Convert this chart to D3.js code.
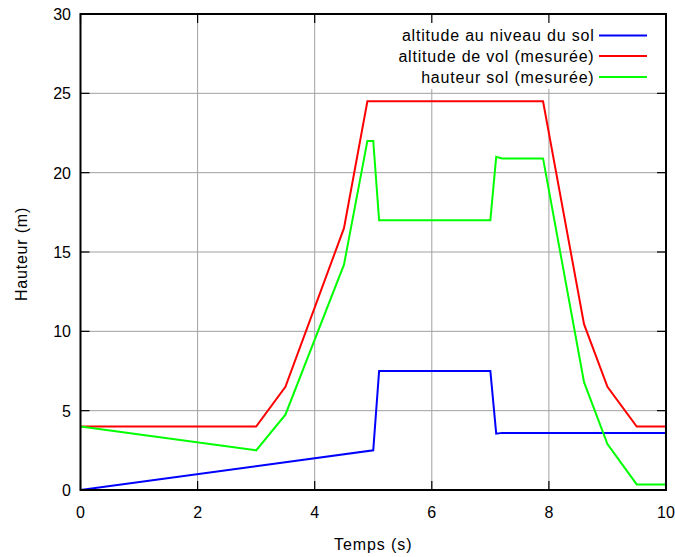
<!DOCTYPE html>
<html>
<head>
<meta charset="utf-8">
<script src="https://cdn.jsdelivr.net/npm/d3@7"></script>
<style>
  html, body { margin: 0; padding: 0; background: #fff; }
  svg { display: block; }
  text { font-family: "Liberation Sans", Arial, sans-serif; fill: #000; }
</style>
</head>
<body>
<svg id="chart" width="675" height="557"></svg>
<script>
// ---- data ----
const xTicks = [0, 2, 4, 6, 8, 10];
const yTicks = [0, 5, 10, 15, 20, 25, 30];
const seriesNames = ["altitude au niveau du sol", "altitude de vol (mesurée)", "hauteur sol (mesurée)"];
const seriesColors = ["#0000ff", "#ff0000", "#00ff00"];

const solX = [0, 5.0, 5.1, 7.0, 7.1, 7.2, 10];
const solY = [0, 2.5, 7.5, 7.5, 3.55, 3.6, 3.6];

const volX = [0, 3.0, 3.5, 4.5, 4.9, 7.9, 8.6, 9.0, 9.5, 10];
const volY = [4.0, 4.0, 6.5, 16.5, 24.5, 24.5, 10.45, 6.5, 4.0, 4.0];

const hautX = [0, 3.0, 3.5, 4.5, 4.9, 5.0, 5.1, 7.0, 7.1, 7.2, 7.9, 8.6, 9.0, 9.5, 10];
const hautY = [4.0, 2.5, 4.75, 14.2, 22.0, 22.0, 17.0, 17.0, 21.0, 20.9, 20.9, 6.8, 2.9, 0.35, 0.35];

// ---- layout ----
const svg = d3.select("#chart");
const L = 80.5, R = 666, T = 14, B = 490;
const x = d3.scaleLinear().domain([0, 10]).range([L, R]);
const y = d3.scaleLinear().domain([0, 30]).range([B, T]);

// grid
const grid = svg.append("g");
grid.selectAll("line.gx").data(xTicks.slice(1, -1)).enter().append("line")
  .attr("x1", d => x(d)).attr("x2", d => x(d)).attr("y1", B).attr("y2", T)
  .attr("stroke", "#a0a0a0").attr("stroke-width", 1);
grid.selectAll("line.gy").data(yTicks.slice(1, -1)).enter().append("line")
  .attr("x1", L).attr("x2", R).attr("y1", d => y(d)).attr("y2", d => y(d))
  .attr("stroke", "#a0a0a0").attr("stroke-width", 1);

// legend background (covers grid)
svg.append("rect").attr("x", 396).attr("y", T + 1).attr("width", R - 396 - 1).attr("height", 74)
  .attr("fill", "#fff");

// inward ticks on all sides
const tk = 9;
const ticks = svg.append("g").attr("stroke", "#000").attr("stroke-width", 1.2);
xTicks.forEach(d => {
  ticks.append("line").attr("x1", x(d)).attr("x2", x(d)).attr("y1", B).attr("y2", B - tk);
  ticks.append("line").attr("x1", x(d)).attr("x2", x(d)).attr("y1", T).attr("y2", T + tk);
});
yTicks.forEach(d => {
  ticks.append("line").attr("x1", L).attr("x2", L + tk).attr("y1", y(d)).attr("y2", y(d));
  ticks.append("line").attr("x1", R).attr("x2", R - tk).attr("y1", y(d)).attr("y2", y(d));
});

// tick labels
svg.append("g").selectAll("text").data(xTicks).enter().append("text")
  .attr("x", d => x(d)).attr("y", 518).attr("text-anchor", "middle")
  .attr("font-size", 16).text(d => d);
svg.append("g").selectAll("text").data(yTicks).enter().append("text")
  .attr("x", 71).attr("y", d => y(d) + 6).attr("text-anchor", "end")
  .attr("font-size", 16).text(d => d);

// axis titles
svg.append("text").attr("x", (L + R) / 2).attr("y", 550).attr("text-anchor", "middle")
  .attr("font-size", 16).attr("letter-spacing", 0.9).text("Temps (s)");
svg.append("text").attr("transform", "translate(27,254) rotate(-90)").attr("text-anchor", "middle")
  .attr("font-size", 16).attr("letter-spacing", 0.8).text("Hauteur (m)");

// clip
svg.append("clipPath").attr("id", "clip").append("rect")
  .attr("x", L).attr("y", T).attr("width", R - L).attr("height", B - T);

const line = d3.line().x(d => x(d[0])).y(d => y(d[1]));
const series = [
  d3.zip(solX, solY),
  d3.zip(volX, volY),
  d3.zip(hautX, hautY)
];
const plot = svg.append("g").attr("clip-path", "url(#clip)");
series.forEach((s, i) => {
  plot.append("path").datum(s).attr("d", line)
    .attr("fill", "none").attr("stroke", seriesColors[i]).attr("stroke-width", 2)
    .attr("stroke-linejoin", "miter");
});

// frame
svg.append("rect").attr("x", L).attr("y", T).attr("width", R - L).attr("height", B - T)
  .attr("fill", "none").attr("stroke", "#000").attr("stroke-width", 2);

// legend
const legY = [35.5, 56, 77];
const leg = svg.append("g");
seriesNames.forEach((n, i) => {
  leg.append("text").attr("x", 594.5).attr("y", legY[i] + 5.5).attr("text-anchor", "end")
    .attr("font-size", 16).attr("letter-spacing", 0.8).text(n);
  leg.append("line").attr("x1", 599).attr("x2", 647).attr("y1", legY[i]).attr("y2", legY[i])
    .attr("stroke", seriesColors[i]).attr("stroke-width", 2);
});
</script>
</body>
</html>
